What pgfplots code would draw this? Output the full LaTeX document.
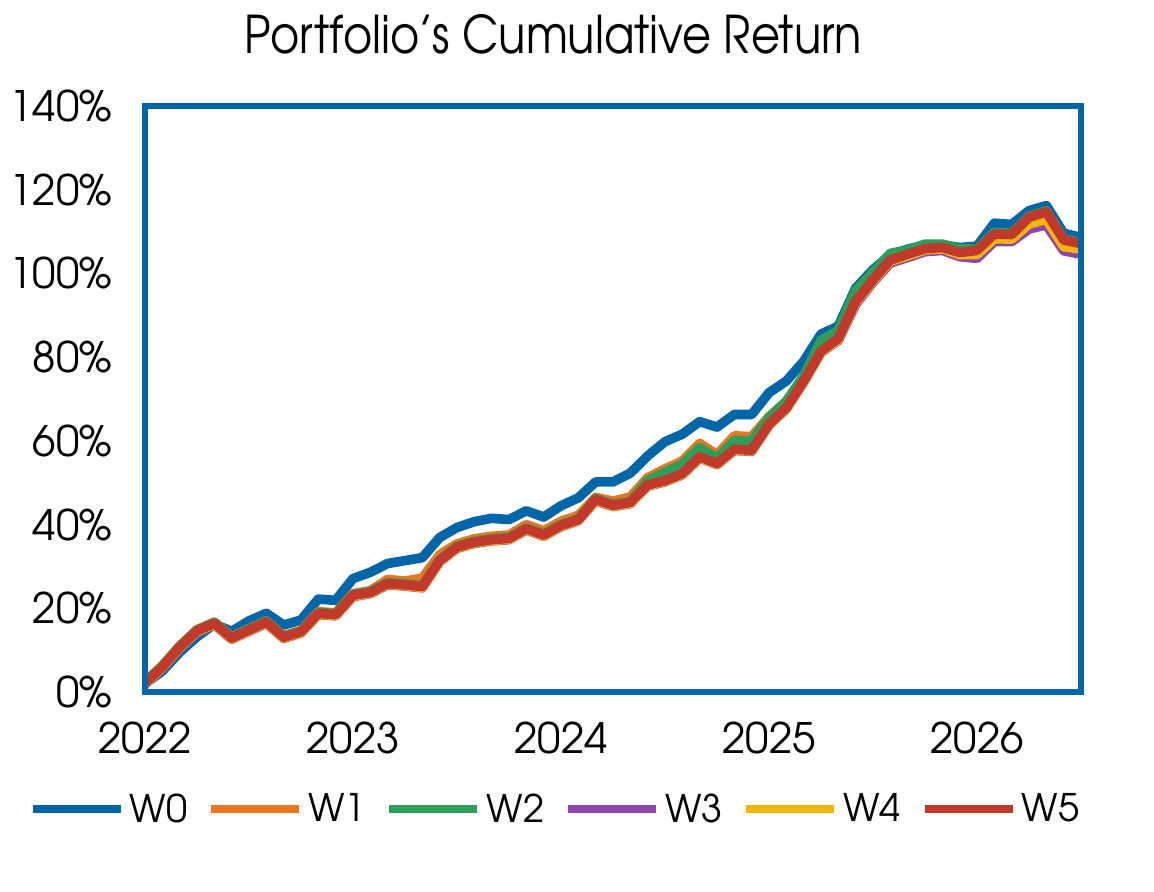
\documentclass[border=0pt]{standalone}
\usepackage{pgfplots}
\pgfplotsset{compat=1.18}
\usepackage{pgfplotstable}
\usepackage{fontspec}
\setmainfont{TeX Gyre Adventor}
\definecolor{cW0}{HTML}{0066A8}
\definecolor{cW1}{HTML}{E87722}
\definecolor{cW2}{HTML}{2E9E5B}
\definecolor{cW3}{HTML}{8E44AD}
\definecolor{cW4}{HTML}{F2B705}
\definecolor{cW5}{HTML}{C0392B}
\pgfplotstableread{
m w0 w1 w2 w3 w4 w5
0 2.0 2.4 2.3 1.8 1.9 2.1
1 5.0 6.3 6.2 5.7 5.8 6.0
2 9.5 11.0 10.9 10.4 10.5 10.7
3 13.2 14.9 14.8 14.3 14.4 14.6
4 16.2 16.7 16.6 16.1 16.2 16.4
5 14.5 13.2 13.1 12.6 12.7 12.9
6 17.0 15.1 15.0 14.5 14.6 14.8
7 18.8 17.0 16.9 16.4 16.5 16.7
8 16.0 13.4 13.3 12.8 12.9 13.1
9 17.2 14.7 14.6 14.1 14.2 14.4
10 22.2 19.2 19.0 18.5 18.6 18.8
11 21.9 18.9 18.7 18.2 18.3 18.5
12 27.1 23.5 23.3 22.8 22.9 23.1
13 28.6 24.2 24.0 23.5 23.6 23.8
14 30.7 26.9 26.1 25.6 25.7 25.9
15 31.4 26.5 25.8 25.3 25.4 25.6
16 32.1 27.2 25.4 24.9 25.0 25.2
17 36.9 32.8 31.6 31.1 31.2 31.4
18 39.3 35.4 34.8 34.3 34.4 34.6
19 40.7 36.6 36.0 35.5 35.6 35.8
20 41.5 37.2 36.6 36.1 36.2 36.4
21 41.2 37.5 36.9 36.4 36.5 36.7
22 43.3 40.0 39.2 38.7 38.8 39.0
23 41.8 38.5 37.7 37.2 37.3 37.5
24 44.5 40.8 40.0 39.5 39.6 39.8
25 46.4 42.2 41.4 40.9 41.0 41.2
26 50.2 46.5 46.2 45.7 45.8 46.0
27 50.2 45.6 44.8 44.3 44.4 44.6
28 52.3 46.6 45.5 45.0 45.1 45.3
29 56.4 51.2 50.5 49.2 49.3 49.5
30 59.8 53.3 52.5 50.2 50.3 50.5
31 61.6 55.2 54.4 51.9 52.0 52.2
32 64.6 59.4 58.4 55.9 56.0 56.2
33 63.3 56.7 55.8 54.3 54.4 54.6
34 66.3 61.2 60.1 57.7 57.8 58.0
35 66.3 61.0 60.0 57.5 57.6 57.8
36 71.5 65.8 65.5 63.7 63.8 64.0
37 74.3 69.4 69.5 67.6 67.7 67.9
38 79.0 75.3 75.5 74.0 74.1 74.3
39 85.5 81.9 84.0 81.1 81.2 81.4
40 87.4 85.0 86.5 84.0 84.2 84.5
41 96.5 93.5 96.0 92.6 93.0 93.3
42 100.9 98.7 100.3 97.9 98.2 98.5
43 104.5 103.4 104.8 102.5 102.9 103.2
44 105.8 104.8 105.6 103.8 104.2 104.6
45 106.8 106.1 107.0 105.2 105.6 105.9
46 106.8 106.4 107.0 105.5 105.9 106.2
47 106.2 105.2 105.9 104.0 104.5 105.0
48 106.5 105.7 105.8 103.6 104.5 105.5
49 112.0 109.6 109.8 107.6 108.3 109.4
50 111.7 109.5 109.6 107.6 108.2 109.3
51 115.0 113.6 113.6 110.6 111.8 113.4
52 116.2 114.9 114.9 111.6 112.9 114.7
53 109.6 108.2 108.2 105.4 106.4 108.0
54 108.6 107.3 107.3 104.6 105.8 107.1
}\data
\begin{document}
\begin{tikzpicture}
\useasboundingbox (0,0) rectangle (577pt,445.5pt);
\begin{axis}[
  at={(72.5pt,99.5pt)}, anchor=south west,
  scale only axis, width=468pt, height=293pt,
  xmin=0, xmax=54, ymin=0, ymax=140,
  axis on top,
  axis line style={draw=cW0, line width=2.75pt},
  xtick={0,12,24,36,48},
  xticklabels={2022,2023,2024,2025,2026},
  ytick={0,20,40,60,80,100,120,140},
  yticklabel={\pgfmathprintnumber[assume math mode=true]{\tick}\%},
  major tick length=0pt,
  tick label style={font=\fontsize{21}{24}\selectfont, text=black},
  yticklabel style={xshift=-13pt},
  xticklabel style={yshift=-11.5pt},
  title={\scalebox{0.86}[1]{Portfolio’s Cumulative Return}},
  title style={at={(axis description cs:0.4364,1.0683)}, anchor=base, font=\fontsize{26}{30}\selectfont, inner sep=0pt},
  every axis plot/.append style={line width=4.8pt, line join=round, line cap=butt},
  legend columns=6,
  legend image code/.code={\draw[#1, line width=4.2pt, line cap=butt] (0pt,0pt) -- (44pt,0pt);},
  legend style={at={(axis description cs:-0.125,-0.200)}, anchor=west, draw=none, inner sep=0pt,
    font=\fontsize{19}{22}\selectfont,
    nodes={inner sep=0pt, text width=28pt, align=left},
    /tikz/every odd column/.append style={column sep=2.5pt},
    /tikz/every even column/.append style={column sep=10.5pt}},
]
\addplot[cW0] table[x=m,y=w0]{\data};
\addplot[cW1] table[x=m,y=w1]{\data};
\addplot[cW2] table[x=m,y=w2]{\data};
\addplot[cW3] table[x=m,y=w3]{\data};
\addplot[cW4] table[x=m,y=w4]{\data};
\addplot[cW5] table[x=m,y=w5]{\data};
\legend{W0,W1,W2,W3,W4,W5}
\end{axis}
\end{tikzpicture}
\end{document}
